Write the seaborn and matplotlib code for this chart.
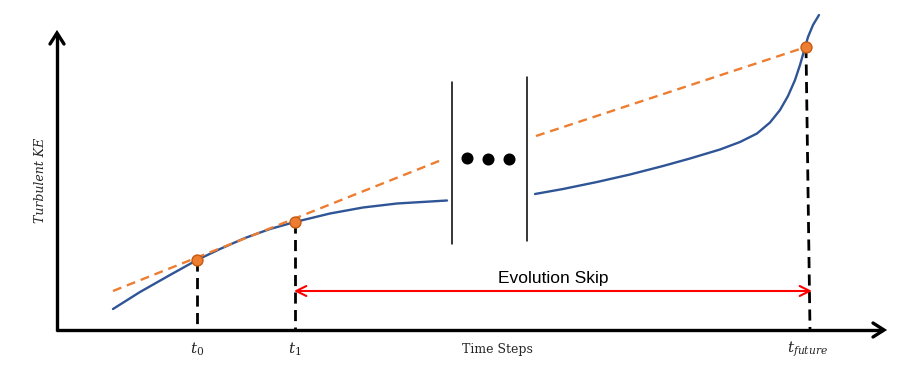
import matplotlib
matplotlib.use("Agg")
import matplotlib.pyplot as plt
import seaborn as sns

# ---- data (figure units: x = time position, y = KE position, screen-down) ----
blue1_x = [113, 140, 170, 197, 220, 245, 270, 295, 330, 363, 397, 447]
blue1_y = [309, 292, 275, 260, 249, 238, 229, 222, 213.5, 207.5, 203.5, 200.5]
blue2_x = [535, 563, 597, 630, 663, 690, 720, 740, 757, 770, 780, 788, 795, 800,
           804, 808, 813, 819]
blue2_y = [194, 189, 182, 174.5, 166, 158.5, 149.5, 142, 133.5, 122.5, 110, 96, 80, 65,
           51, 37, 25, 15]
orange1_x = [113, 444]
orange1_y = [291, 159]
orange2_x = [536, 806]
orange2_y = [136, 47]
dots_x = [197, 295, 806]
dots_y = [260, 222, 47]
tick_x = [197, 295, 808]
tick_labels = [r"$t_0$", r"$t_1$", r"$t_{future}$"]
ellipsis_x = [467, 488, 509]
ellipsis_y = [158, 159, 159]

BLUE = "#2F5597"
ORANGE = "#ED7D31"

sns.set_theme(style="white")
fig = plt.figure(figsize=(9, 3.73), dpi=100)
ax = fig.add_axes([0, 0, 1, 1])
ax.set_xlim(0, 900)
ax.set_ylim(373, 0)
ax.axis("off")

# curves
sns.lineplot(x=blue1_x, y=blue1_y, sort=False, color=BLUE, lw=1.7, ax=ax)
sns.lineplot(x=blue2_x, y=blue2_y, sort=False, color=BLUE, lw=1.7, ax=ax)
for xs, ys in [(orange1_x, orange1_y), (orange2_x, orange2_y)]:
    sns.lineplot(x=xs, y=ys, sort=False, color=ORANGE, lw=1.7, ax=ax)
    ax.lines[-1].set_dashes((3.8, 2.5))

# vertical dashed drop lines
for x, y in zip(dots_x, dots_y):
    xb = x + 4 if x > 700 else x
    ax.plot([x, xb], [y, 330], color="black", lw=2.0, dashes=(4, 2.3), zorder=2)

# dots
sns.scatterplot(x=dots_x, y=dots_y, s=62, color=ORANGE, edgecolor="#C55A11",
                linewidth=1, zorder=5, ax=ax)

# axes arrows
ax.plot([57, 57], [331, 34], color="black", lw=2.4, solid_capstyle="butt")
ax.plot([56, 883], [330, 330], color="black", lw=2.4, solid_capstyle="butt")
ax.plot([50, 57, 64], [44, 33, 44], color="black", lw=2.4, solid_joinstyle="miter")
ax.plot([873, 884, 873], [323, 330, 337], color="black", lw=2.4, solid_joinstyle="miter")

# break lines and ellipsis
ax.plot([452, 452], [82, 244], color="black", lw=1.1)
ax.plot([527, 527], [77, 241], color="black", lw=1.1)
sns.scatterplot(x=ellipsis_x, y=ellipsis_y, s=75, color="black", edgecolor="black",
                linewidth=0, ax=ax)

# red evolution skip arrow
ax.annotate("", xy=(812, 291), xytext=(294, 291),
            arrowprops=dict(arrowstyle="<->,head_length=0.6,head_width=0.3",
                            color="#FF0000", lw=1.5, shrinkA=0, shrinkB=0))
ax.text(553, 278, "Evolution Skip", ha="center", va="center", fontsize=12.5,
        family="Liberation Sans", color="black")

# labels
for x, lab in zip(tick_x, tick_labels):
    ax.text(x, 349, lab, ha="center", va="center", fontsize=11,
            math_fontfamily="dejavuserif")
ax.text(497, 349, "Time Steps", ha="center", va="center", fontsize=9,
        family="DejaVu Serif")
ax.text(40, 180, "Turbulent KE", ha="center", va="center", fontsize=9,
        family="DejaVu Serif", style="italic", rotation=90)

fig.savefig("out.png", dpi=100)
